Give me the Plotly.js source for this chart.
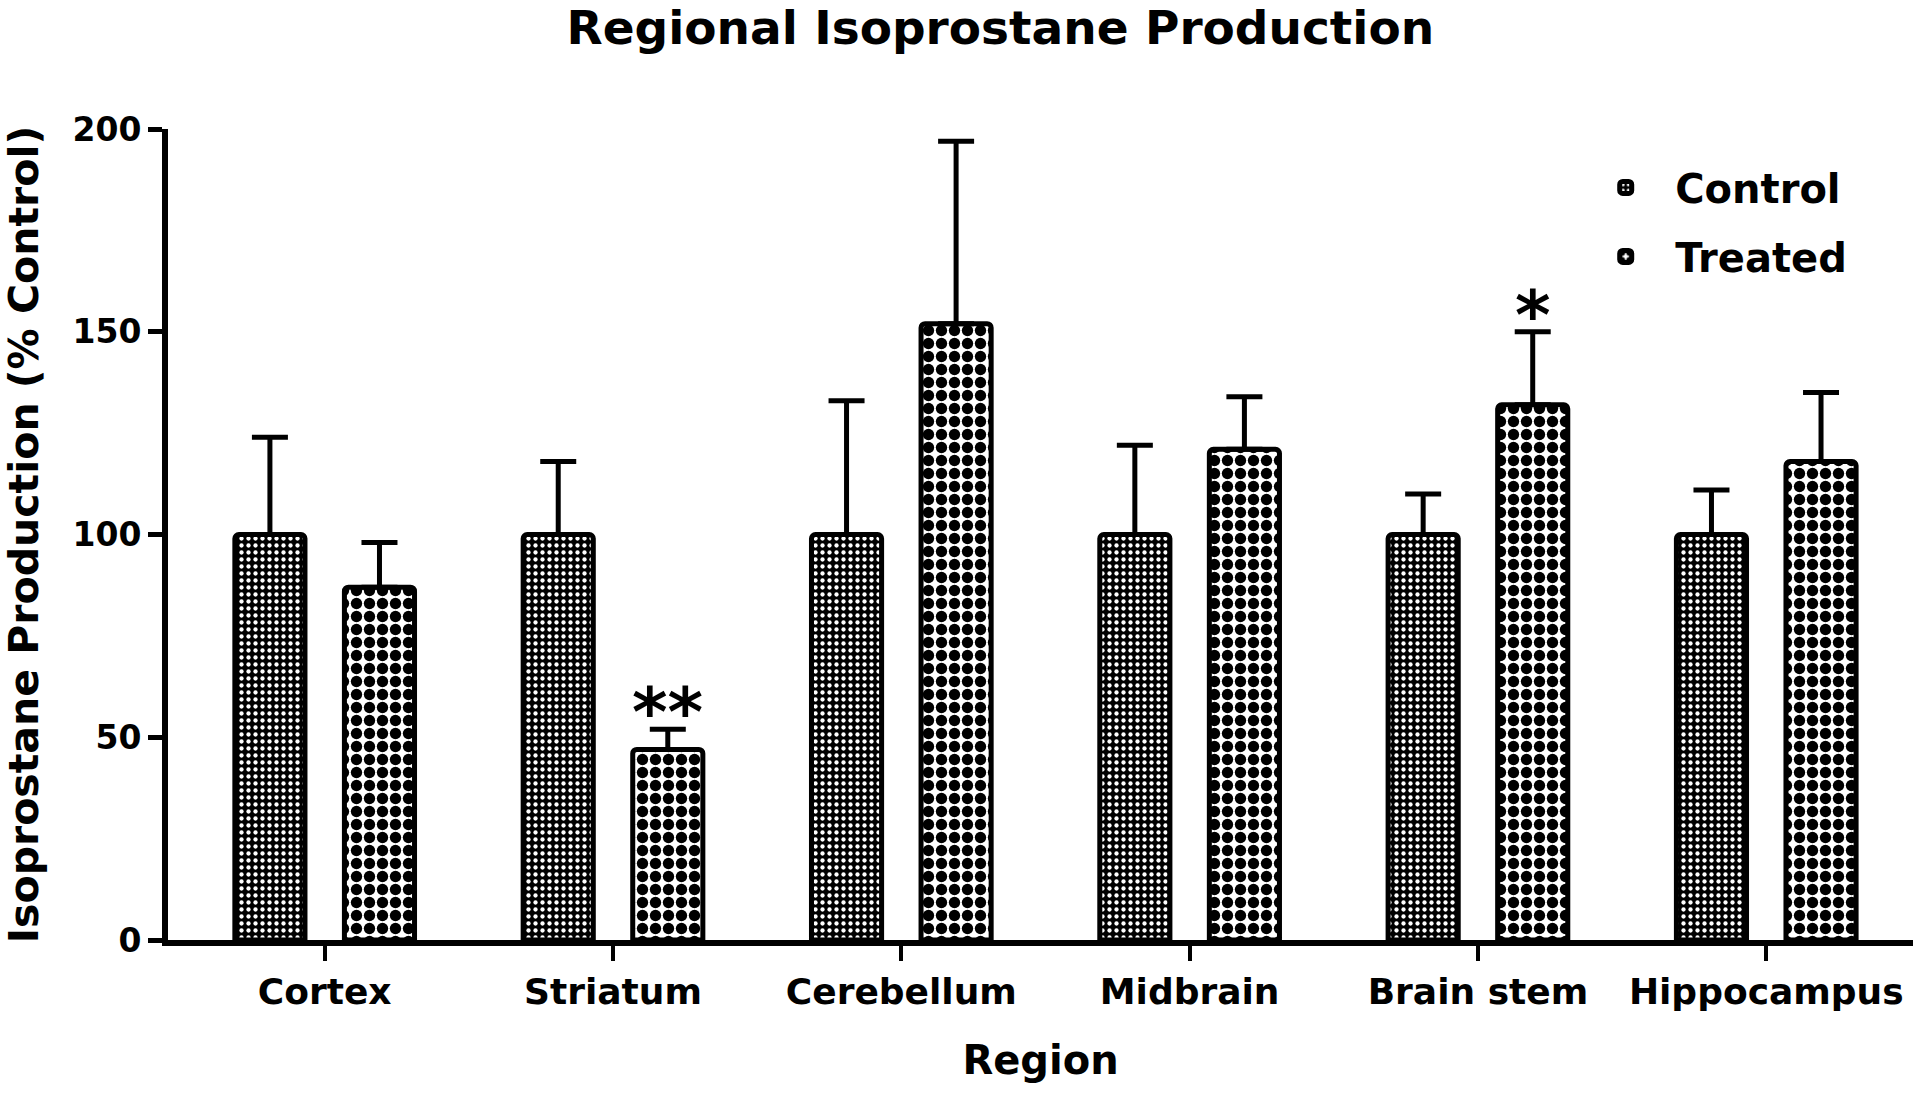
<!DOCTYPE html>
<html>
<head>
<meta charset="utf-8">
<script src="https://cdn.plot.ly/plotly-3.0.1.min.js"></script>
<style>html,body{margin:0;padding:0;background:#fff;}#chart{width:1920px;height:1096px;}</style>
</head>
<body>
<div id="chart"></div>
<script>
const regions = ["Cortex", "Striatum", "Cerebellum", "Midbrain", "Brain stem", "Hippocampus"];
const controlValues = [100, 100, 100, 100, 100, 100];
const controlErrors = [24, 18, 33, 22, 10, 11];
const treatedValues = [87, 47, 152, 121, 132, 118];
const treatedErrors = [11, 5, 45, 13, 18, 17];
const significance = ["", "**", "", "", "*", ""];
const yTicks = [0, 50, 100, 150, 200];

const FONT = "DejaVu Sans";
const zeros = regions.map(() => 0);

const control = {
  type: "bar", name: "Control", x: regions, y: controlValues,
  legendgroup: "c",
  marker: {
    color: "#000", line: {color: "#000", width: 5}, cornerradius: 4,
    pattern: {shape: ".", bgcolor: "#000", fgcolor: "#fff", size: 7, solidity: 0.3, fillmode: "replace"}
  },
  error_y: {type: "data", symmetric: false, array: controlErrors, arrayminus: zeros, color: "#000", thickness: 5, width: 18}
};
const treated = {
  type: "bar", name: "Treated", x: regions, y: treatedValues,
  legendgroup: "t",
  marker: {
    color: "#fff", line: {color: "#000", width: 5}, cornerradius: 4,
    pattern: {shape: ".", bgcolor: "#fff", fgcolor: "#000", size: 13, solidity: 0.6, fillmode: "replace"}
  },
  error_y: {type: "data", symmetric: false, array: treatedErrors, arrayminus: zeros, color: "#000", thickness: 5, width: 18}
};

const annotations = [];
significance.forEach((s, i) => {
  if (!s) return;
  annotations.push({
    x: i + 0.19, y: treatedValues[i] + treatedErrors[i], xref: "x", yref: "y",
    text: s, showarrow: false, yanchor: "bottom", yshift: -25,
    font: {family: FONT, size: 68, color: "#000", weight: "bold"}
  });
});

const layout = {
  width: 1920, height: 1096,
  paper_bgcolor: "#fff", plot_bgcolor: "#fff",
  margin: {l: 168, r: 7, t: 129, b: 156},
  barmode: "group", bargap: 0.24, bargroupgap: 0.36,
  font: {family: FONT, color: "#000", weight: "bold"},
  title: {
    text: "Regional Isoprostane Production",
    font: {family: FONT, size: 47, color: "#000", weight: "bold"},
    x: 0.521, xanchor: "center", y: 0.975, yanchor: "middle", yref: "container"
  },
  xaxis: {
    type: "category", range: [-0.5435, 5.509],
    showline: true, linewidth: 6, linecolor: "#000",
    ticks: "outside", ticklen: 15, tickwidth: 4, tickcolor: "#000",
    tickfont: {family: FONT, size: 36, color: "#000", weight: "bold"},
    title: {text: "Region", font: {family: FONT, size: 40, color: "#000", weight: "bold"}, standoff: 37},
    showgrid: false, zeroline: false, fixedrange: true
  },
  yaxis: {
    range: [0, 200], tickvals: yTicks, ticktext: yTicks.map(String),
    showline: true, linewidth: 6, linecolor: "#000",
    ticks: "outside", ticklen: 14, tickwidth: 5, tickcolor: "#000",
    tickfont: {family: FONT, size: 33, color: "#000", weight: "bold"},
    title: {text: "Isoprostane Production (% Control)", font: {family: FONT, size: 41, color: "#000", weight: "bold"}, standoff: 24},
    showgrid: false, zeroline: false, fixedrange: true
  },
  showlegend: true,
  legend: {
    x: 0.807, xanchor: "left", y: 0.968, yanchor: "top",
    font: {family: FONT, size: 40, color: "#000", weight: "bold"},
    itemwidth: 89, tracegroupgap: 14, bgcolor: "rgba(0,0,0,0)", traceorder: "grouped"
  },
  annotations: annotations
};

Plotly.newPlot("chart", [control, treated], layout, {displayModeBar: false, staticPlot: true});
</script>
</body>
</html>
